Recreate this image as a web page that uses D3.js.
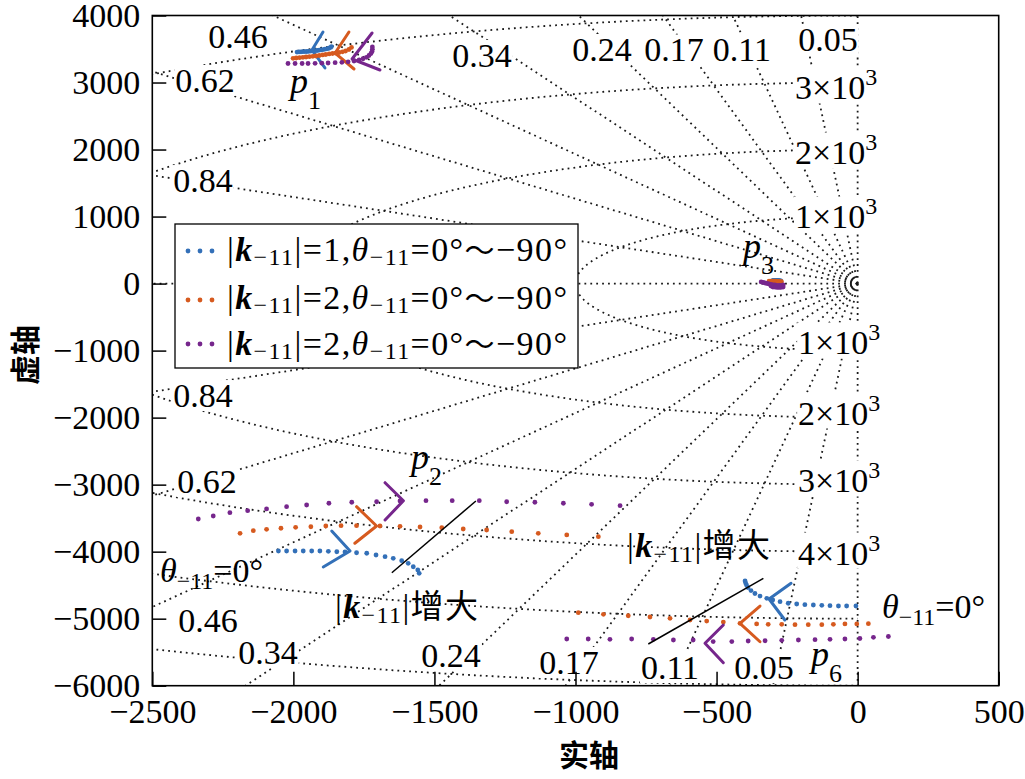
<!DOCTYPE html>
<html><head><meta charset="utf-8">
<script src="https://cdn.jsdelivr.net/npm/d3@7"></script>
<style>
body{margin:0;background:#fff}svg{display:block}
.sf{font-family:"Liberation Serif","DejaVu Serif","Times New Roman",serif}
.cj{font-family:"Noto Sans CJK SC","Noto Sans CJK JP",sans-serif}
</style>
</head><body>
<svg id="chart" width="1025" height="779"></svg>
<script>
// ---------------- data ----------------
const xTicks = [-2500, -2000, -1500, -1000, -500, 0, 500];
const yTicks = [4000, 3000, 2000, 1000, 0, -1000, -2000, -3000, -4000, -5000, -6000];
const zetaValues = [0.05, 0.11, 0.17, 0.24, 0.34, 0.46, 0.62, 0.84];
const wnValues = [1000, 2000, 3000, 4000, 5000, 6000];
// damping-ratio label anchors [re, im] (upper / lower half plane)
const zetaLabelsUpper = [[-105,3649],[-410,3493],[-651,3493],[-906,3500],[-1331,3411],[-2196,3694],[-2313,3038],[-2320,1545]];
const zetaLabelsLower = [[-332,-5721],[-665,-5721],[-1023,-5646],[-1441,-5542],[-2090,-5497],[-2303,-5020],[-2306,-2946],[-2320,-1663]];
// natural-frequency labels (×10^3) and anchors
const wnLabelValues = [1, 2, 3, 1, 2, 3, 4];
const wnLabelPos = [[-222,1001],[-222,1956],[-222,2926],[-211,-879],[-211,-1924],[-211,-2938],[-211,-4013]];

const seriesNames = ["|k-11|=1", "|k-11|=2", "|k-11|=2"];

// series 1 (|k|=1)
const s1_p1 = [[-1987,3455],[-1980,3457],[-1973,3458],[-1966,3460],[-1959,3461],[-1952,3463],[-1945,3466],[-1938,3469],[-1930,3472],[-1923,3475],[-1916,3478],[-1909,3482],[-1902,3487],[-1895,3491],[-1888,3497],[-1881,3503],[-1874,3511],[-1868,3523],[-1865,3537]];
const s1_p2 = [[-2053,-3990],[-2024,-3990],[-1994,-3990],[-1965,-3990],[-1935,-3990],[-1906,-3990],[-1876,-3995],[-1846,-4001],[-1817,-4005],[-1776,-4016],[-1740,-4024],[-1707,-4050],[-1675,-4075],[-1646,-4099],[-1616,-4135],[-1593,-4174],[-1575,-4225],[-1559,-4274],[-1554,-4323]];
const s1_p3 = [[-300,46],[-296,46],[-292,46],[-288,46],[-284,46],[-280,46],[-276,44],[-272,40]];
const s1_p6 = [[-6,-4811],[-39,-4811],[-68,-4811],[-98,-4806],[-127,-4800],[-157,-4796],[-187,-4791],[-216,-4781],[-246,-4770],[-275,-4746],[-301,-4721],[-322,-4696],[-346,-4662],[-364,-4624],[-378,-4580],[-389,-4535],[-394,-4497],[-397,-4468],[-399,-4438]];
// series 2 (|k|=2)
const s2_p1 = [[-2001,3361],[-1990,3366],[-1978,3370],[-1966,3376],[-1955,3381],[-1943,3385],[-1931,3391],[-1920,3396],[-1908,3403],[-1896,3411],[-1885,3418],[-1873,3426],[-1861,3433],[-1850,3440],[-1838,3448],[-1826,3458],[-1815,3470],[-1803,3493],[-1794,3523]];
const s2_p2 = [[-2189,-3726],[-2142,-3687],[-2095,-3666],[-2044,-3651],[-1992,-3637],[-1938,-3628],[-1885,-3617],[-1831,-3613],[-1776,-3613],[-1693,-3617],[-1622,-3622],[-1551,-3632],[-1474,-3643],[-1398,-3662],[-1315,-3677],[-1226,-3702],[-1132,-3726],[-1031,-3751],[-919,-3777]];
const s2_p3 = [[-314,38],[-309,38],[-304,38],[-300,38],[-295,38],[-290,36],[-285,34],[-280,32],[-275,30],[-270,28]];
const s2_p6 = [[38,-5075],[-3,-5079],[-45,-5079],[-86,-5084],[-127,-5090],[-175,-5090],[-222,-5090],[-269,-5084],[-317,-5084],[-358,-5079],[-417,-5069],[-476,-5050],[-535,-5035],[-594,-5020],[-665,-4994],[-736,-4975],[-813,-4956],[-901,-4935],[-990,-4911]];
// series 3 (|k|=2, third curve)
const s3_p1 = [[-2019,3284],[-1994,3284],[-1969,3284],[-1948,3284],[-1923,3287],[-1899,3288],[-1877,3291],[-1852,3296],[-1828,3302],[-1806,3309],[-1785,3321],[-1767,3336],[-1753,3355],[-1741,3376],[-1732,3403],[-1725,3433],[-1721,3463],[-1720,3496],[-1720,3530]];
const s3_p2 = [[-2337,-3513],[-2284,-3468],[-2225,-3419],[-2162,-3389],[-2095,-3363],[-2024,-3329],[-1953,-3304],[-1874,-3278],[-1793,-3263],[-1705,-3255],[-1622,-3244],[-1530,-3240],[-1437,-3240],[-1341,-3240],[-1244,-3255],[-1144,-3263],[-1043,-3278],[-943,-3293],[-842,-3314]];
const s3_p3 = [[-342,24],[-335,16],[-328,9],[-321,1],[-314,-6],[-307,-14],[-300,-21],[-293,-21],[-286,-29],[-279,-29],[-272,-29],[-264,-21],[-264,-51],[-272,-58],[-279,-58],[-286,-58],[-293,-51],[-300,-51],[-307,-36]];
const s3_p6 = [[109,-5266],[56,-5278],[8,-5296],[-45,-5303],[-98,-5308],[-151,-5313],[-210,-5318],[-269,-5323],[-328,-5329],[-388,-5333],[-446,-5341],[-512,-5341],[-583,-5318],[-653,-5318],[-724,-5308],[-801,-5303],[-878,-5308],[-955,-5303],[-1031,-5303]];

// direction arrows: [arm1, tip, arm2] for p1, p2, p6
const s1_arrows = [[[-1895,3754],[-1934,3485],[-1888,3217]], [[-1864,-3692],[-1799,-3990],[-1894,-4229]], [[-236,-4472],[-314,-4706],[-258,-5020]]];
const s2_arrows = [[[-1803,3754],[-1852,3440],[-1785,3202]], [[-1776,-3329],[-1705,-3617],[-1782,-3875]], [[-346,-4811],[-417,-5069],[-346,-5344]]];
const s3_arrows = [[[-1721,3739],[-1792,3351],[-1693,3187]], [[-1675,-2971],[-1610,-3240],[-1675,-3528]], [[-476,-5094],[-541,-5367],[-476,-5657]]];
// "|k| increases" indicator lines
const gainLines = [[[-1651,-4314],[-1353,-3244]], [[-742,-5378],[-334,-4398]]];

// ---------------- style ----------------
const colors = ["#3370b8", "#d65a1f", "#76268c"];

const svg = d3.select("#chart");
const x = d3.scaleLinear().domain([-2500, 500]).range([152.3, 998.7]);
const y = d3.scaleLinear().domain([-6000, 4000]).range([685.7, 15.5]);

svg.append("defs").append("clipPath").attr("id", "clip")
  .append("rect").attr("x", x(-2500)).attr("y", y(4000))
  .attr("width", x(500) - x(-2500)).attr("height", y(-6000) - y(4000));

const plot = svg.append("g").attr("clip-path", "url(#clip)");
const grid = plot.append("g").attr("fill", "none").attr("stroke", "#1a1a1a")
  .attr("stroke-width", 1.8).attr("stroke-dasharray", "1.8 4.1");

// damping lines (from origin)
const R = 20000;
const rays = [];
zetaValues.forEach(z => {
  const s = Math.sqrt(1 - z * z);
  rays.push([[0, 0], [-z * R, s * R]]);
  rays.push([[0, 0], [-z * R, -s * R]]);
});
rays.push([[0, 0], [-R, 0]]);
rays.push([[0, 0], [0, R]]);
rays.push([[0, 0], [0, -R]]);
const line = d3.line().x(d => x(d[0])).y(d => y(d[1]));
grid.selectAll("path.ray").data(rays).join("path").attr("class", "ray").attr("d", line);

// natural frequency circles (left half plane)
const angles = d3.range(0, 181).map(i => Math.PI / 2 + i * Math.PI / 180);
grid.selectAll("path.circ").data(wnValues).join("path").attr("class", "circ")
  .attr("d", wn => line(angles.map(a => [wn * Math.cos(a), wn * Math.sin(a)])));

// rich text helper
function rich(parent, px, py, segs, base, len) {
  const t = parent.append("text").attr("class", "sf").attr("x", px).attr("y", py)
    .style("font-size", (base || 34) + "px").attr("fill", "#000");
  let shift = 0;
  segs.forEach(s => {
    const sp = t.append("tspan").text(s.t);
    const target = s.dy || 0;
    if (target !== shift) { sp.attr("dy", target - shift); shift = target; }
    if (s.size) sp.style("font-size", s.size + "px");
    if (s.i) sp.style("font-style", "italic");
    if (s.b) sp.style("font-weight", "bold");
    if (s.cjk) sp.attr("class", "cj");
  });
  if (len) t.attr("textLength", len).attr("lengthAdjust", "spacing");
  return t;
}
function bgBox(g) {
  const t = g.select("text").node();
  const b = t.getBBox();
  g.insert("rect", "text").attr("x", b.x - 1).attr("y", b.y + 3).attr("width", b.width + 2)
    .attr("height", b.height - 6).attr("fill", "#fff");
}

// grid labels
const labels = svg.append("g");
const fmtZ = d3.format(".2f");
[zetaLabelsUpper, zetaLabelsLower].forEach(arr => {
  arr.forEach((p, i) => {
    const g = labels.append("g");
    g.append("text").attr("class", "sf").attr("x", x(p[0])).attr("y", y(p[1]) + 12)
      .attr("text-anchor", "middle").style("font-size", "34px")
      .text(fmtZ(zetaValues[i]));
    bgBox(g);
  });
});
wnLabelPos.forEach((p, i) => {
  const g = labels.append("g");
  rich(g, x(p[0]), y(p[1]) + 12, [{ t: wnLabelValues[i] + "×10" }, { t: "3", dy: -14, size: 24 }], 34);
  bgBox(g);
});

// data series
const seriesPoles = [[s1_p1, s1_p2, s1_p3, s1_p6], [s2_p1, s2_p2, s2_p3, s2_p6], [s3_p1, s3_p2, s3_p3, s3_p6]];
const seriesArrows = [s1_arrows, s2_arrows, s3_arrows];
const dataG = plot.append("g");
seriesPoles.forEach((poles, si) => {
  const g = dataG.append("g").attr("fill", colors[si]);
  poles.forEach(pts => {
    g.selectAll(null).data(pts).join("circle")
      .attr("cx", d => x(d[0])).attr("cy", d => y(d[1])).attr("r", 2.4);
  });
  seriesArrows[si].forEach(a => {
    dataG.append("path").attr("d", line(a)).attr("fill", "none")
      .attr("stroke", colors[si]).attr("stroke-width", 3).attr("stroke-linecap", "round")
      .attr("stroke-linejoin", "round");
  });
});
gainLines.forEach(l => {
  dataG.append("path").attr("d", line(l)).attr("stroke", "#000").attr("stroke-width", 1.5);
});

// annotations
const ann = svg.append("g");
const pLabel = (px, py, sub) => rich(ann, px, py, [{ t: "p", i: 1 }, { t: sub, dy: 16, size: 26 }], 36);
pLabel(290, 93, "1");
pLabel(411, 469, "2");
pLabel(743, 258, "3");
pLabel(811, 666, "6");
const thetaSegs = [{ t: "θ", i: 1 }, { t: "−11", dy: 7, size: 24 }, { t: "=0°" }];
rich(ann, 160, 582, thetaSegs, 34);
rich(ann, 882, 618, thetaSegs, 34);
const gainSegs = [{ t: "|" }, { t: "k", i: 1, b: 1 }, { t: "−11", dy: 5, size: 24 }, { t: "|" }, { t: "增大", cjk: 1, size: 33 }];
rich(ann, 335, 618, gainSegs, 34, 143);
rich(ann, 627, 557, gainSegs, 34, 143);

// frame
svg.append("rect").attr("x", x(-2500)).attr("y", y(4000))
  .attr("width", x(500) - x(-2500)).attr("height", y(-6000) - y(4000))
  .attr("fill", "none").attr("stroke", "#000").attr("stroke-width", 1.6);

// axes
const fmt = d3.format("d");
const xa = svg.append("g").attr("transform", `translate(0,${y(-6000)})`)
  .call(d3.axisBottom(x).tickValues(xTicks).tickSize(-14).tickPadding(13).tickFormat(fmt));
const ya = svg.append("g").attr("transform", `translate(${x(-2500)},0)`)
  .call(d3.axisLeft(y).tickValues(yTicks).tickSize(-14).tickPadding(12).tickFormat(fmt));
[xa, ya].forEach(a => {
  a.attr("font-family", null).attr("font-size", null);
  a.select(".domain").remove();
  a.selectAll("line").attr("stroke", "#000").attr("stroke-width", 1.5);
  a.selectAll("text").attr("class", "sf").style("font-size", "34px").attr("fill", "#000");
});

svg.append("text").attr("class", "cj").attr("x", 589).attr("y", 766).attr("text-anchor", "middle")
  .style("font-weight", 700).style("font-size", "30px").text("实轴");
svg.append("text").attr("class", "cj").attr("transform", "translate(36,355) rotate(-90)").attr("text-anchor", "middle")
  .style("font-weight", 700).style("font-size", "30px").text("虚轴");

// legend
const lg = svg.append("g");
lg.append("rect").attr("x", 175).attr("y", 224).attr("width", 403).attr("height", 144)
  .attr("fill", "#fff").attr("stroke", "#000").attr("stroke-width", 1.3);
const rowDot = [251, 300, 344];
const rowBase = [261, 309, 355];
const secondNum = ["1", "2", "2"];
seriesNames.forEach((nm, i) => {
  lg.selectAll(null).data([188, 200, 212]).join("circle")
    .attr("cx", d => d).attr("cy", rowDot[i]).attr("r", 2.4).attr("fill", colors[i]);
  rich(lg, 227, rowBase[i], [
    { t: "|" }, { t: "k", i: 1, b: 1 }, { t: "−11", dy: 4, size: 24 }, { t: "|=" + secondNum[i] + "," },
    { t: "θ", i: 1 }, { t: "−11", dy: 4, size: 24 }, { t: "=0°" }, { t: "～", cjk: 1, size: 30 }, { t: "−90°" }
  ], 34, 340);
});
</script>
</body></html>
